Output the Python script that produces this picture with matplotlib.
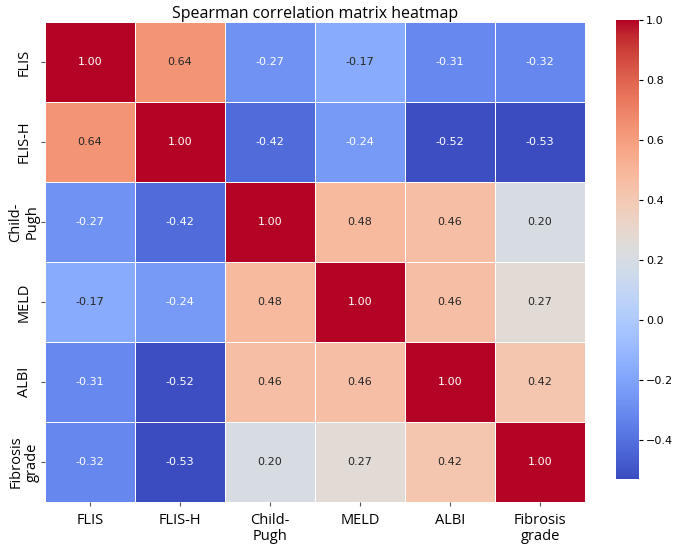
import numpy as np
import matplotlib
matplotlib.use('Agg')
import matplotlib.pyplot as plt
import seaborn as sns

# Spearman correlation values
LABELS = ['FLIS', 'FLIS-H', 'Child-\nPugh', 'MELD', 'ALBI', 'Fibrosis\ngrade']
ROW_FLIS     = [ 1.00,  0.64, -0.27, -0.17, -0.31, -0.32]
ROW_FLIS_H   = [ 0.64,  1.00, -0.42, -0.24, -0.52, -0.53]
ROW_CHILD    = [-0.27, -0.42,  1.00,  0.48,  0.46,  0.20]
ROW_MELD     = [-0.17, -0.24,  0.48,  1.00,  0.46,  0.27]
ROW_ALBI     = [-0.31, -0.52,  0.46,  0.46,  1.00,  0.42]
ROW_FIBROSIS = [-0.32, -0.53,  0.20,  0.27,  0.42,  1.00]

CBAR_TICKS = [-0.4, -0.2, 0.0, 0.2, 0.4, 0.6, 0.8, 1.0]

if __name__ == '__main__':

    matrix = np.array([ROW_FLIS, ROW_FLIS_H, ROW_CHILD, ROW_MELD, ROW_ALBI, ROW_FIBROSIS])

    W, H = 675, 549
    fig = plt.figure(figsize=(W / 100, H / 100), dpi=100)

    # Place heatmap and colorbar by pixel boxes measured on the reference
    ax  = fig.add_axes([45 / W, 1 - 502 / H, 540 / W, 480 / H])
    cax = fig.add_axes([616 / W, 1 - 479 / H, 23 / W, 459 / H])

    sns.heatmap(matrix, ax=ax, cbar_ax=cax, cmap='coolwarm', annot=True, fmt='.2f',
                linewidths=0.6, linecolor='white', annot_kws={'fontsize': 8})

    label_font = ['Open Sans', 'DejaVu Sans']
    ax.set_title('Spearman correlation matrix heatmap', fontsize=11.5, family=label_font, pad=3)
    ax.set_xticklabels(LABELS, rotation=0, fontsize=10.5, family=label_font, va='top',
                       linespacing=1.1)
    ax.set_yticklabels(LABELS, rotation=90, fontsize=10.5, family=label_font, va='center',
                       ha='center', linespacing=1.1)
    ax.tick_params(axis='x', pad=5, length=3, color='#555555')
    ax.tick_params(axis='y', pad=12, length=3, color='#555555')

    cax.set_yticks(CBAR_TICKS)
    cax.tick_params(labelsize=8, length=3, pad=2)

    fig.savefig('out.png', dpi=100)
